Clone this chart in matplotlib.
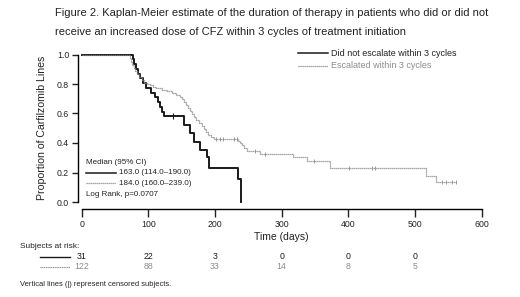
import numpy as np
import matplotlib
matplotlib.use("Agg")
import matplotlib.pyplot as plt
from matplotlib.lines import Line2D
from matplotlib.transforms import blended_transform_factory

plt.rcParams['font.family'] = ['Liberation Sans', 'DejaVu Sans']

# Kaplan-Meier steps (time in days, survival)
t_black = [0, 77, 79, 82, 85, 88, 92, 97, 104, 110, 114, 117, 120, 124,
           153, 163, 168, 177, 188, 191, 234, 239]
s_black = [1.0, 0.968, 0.935, 0.903, 0.871, 0.839, 0.806, 0.774, 0.742, 0.710,
           0.677, 0.645, 0.613, 0.581, 0.52, 0.465, 0.41, 0.35, 0.305, 0.23, 0.154, 0.0]
cens_black = [137]

t_grey = [0, 72, 74, 76, 78, 80, 83, 86, 90, 94, 98, 102, 107, 112, 120, 128, 135,
          142, 147, 151, 154, 157, 160, 163, 166, 169, 172, 176, 180, 184, 187, 190,
          194, 198, 235, 238, 241, 244, 248, 268, 317, 338, 372, 517, 532, 562]
s_grey = [1.0, 0.975, 0.95, 0.93, 0.91, 0.89, 0.87, 0.85, 0.83, 0.81, 0.80, 0.79,
          0.78, 0.77, 0.76, 0.75, 0.74, 0.725, 0.71, 0.695, 0.68, 0.66, 0.64, 0.615,
          0.595, 0.575, 0.555, 0.535, 0.515, 0.495, 0.475, 0.455, 0.44, 0.425, 0.415,
          0.40, 0.385, 0.365, 0.345, 0.325, 0.307, 0.278, 0.228, 0.178, 0.134, 0.134]
cens_grey = [202, 207, 212, 228, 233, 260, 275, 348, 401, 435, 440, 540, 547, 555, 561]

risk_times = [0, 100, 200, 300, 400, 500]
risk_black = [31, 22, 3, 0, 0, 0]
risk_grey = [122, 88, 33, 14, 8, 5]

BLACK = '#1a1a1a'
GREY = '#8c8c8c'
W, H = 520, 297

fig = plt.figure(figsize=(W / 100, H / 100), dpi=100)
ax = fig.add_axes([81.7 / W, (H - 202) / H, 400 / W, 147.5 / H])


def fx(x):
    return x / W


def fy(y):
    return 1 - y / H


def step_value(t, s, x):
    idx = np.searchsorted(t, x, side='right') - 1
    return np.asarray(s)[idx]


ax.plot(t_black, s_black, drawstyle='steps-post', color=BLACK, lw=1.4, clip_on=False)
ax.plot(t_grey, s_grey, drawstyle='steps-post', color=GREY, lw=0.9,
        linestyle=(0, (1, 0.6)), clip_on=False)
ax.plot(cens_black, step_value(t_black, s_black, cens_black), ls='none', marker='|',
        ms=4.5, mew=0.8, color=BLACK, clip_on=False)
ax.plot(cens_grey, step_value(t_grey, s_grey, cens_grey), ls='none', marker='|',
        ms=3.5, mew=0.6, color=GREY, clip_on=False)

ax.set_xlim(0, 600)
ax.set_ylim(0, 1.0)
for sp in ['top', 'right']:
    ax.spines[sp].set_visible(False)
ax.spines['left'].set_position(('outward', 3))
ax.spines['bottom'].set_position(('outward', 5))
ax.spines['left'].set_linewidth(1.0)
ax.spines['bottom'].set_linewidth(1.0)
ax.set_xticks(np.arange(0, 601, 100))
ax.set_yticks(np.arange(0, 1.01, 0.2))
ax.yaxis.set_major_formatter(matplotlib.ticker.FormatStrFormatter('%.1f'))
ax.tick_params(axis='x', length=6, width=1.0, labelsize=6.3, pad=2, colors='#222222')
ax.tick_params(axis='y', length=4, width=1.0, labelsize=6.3, pad=2, colors='#222222')
ax.set_xlabel('Time (days)', fontsize=7.5, labelpad=2, color='#222222')
ax.set_ylabel('Proportion of Carfilzomib Lines', fontsize=7.6, labelpad=7, color='#222222')

# title
fig.text(fx(55), fy(12.7), 'Figure 2. Kaplan-Meier estimate of the duration of therapy in patients who did or did not',
         fontsize=8, va='center', ha='left', color='#222222')
fig.text(fx(55), fy(31.7), 'receive an increased dose of CFZ within 3 cycles of treatment initiation',
         fontsize=8, va='center', ha='left', color='#222222')

# top-right legend
fig.add_artist(Line2D([fx(298), fx(328)], [fy(53), fy(53)], color=BLACK, lw=1.1))
fig.add_artist(Line2D([fx(298), fx(328)], [fy(66), fy(66)], color=GREY, lw=0.9, ls=(0, (1, 0.6))))
fig.text(fx(331), fy(53), 'Did not escalate within 3 cycles', fontsize=6.5, va='center', color='#222222')
fig.text(fx(331), fy(66), 'Escalated within 3 cycles', fontsize=6.5, va='center', color=GREY)

# median legend inside plot
fig.text(fx(86), fy(162.3), 'Median (95% CI)', fontsize=5.8, va='center', color='#222222')
fig.add_artist(Line2D([fx(86), fx(116)], [fy(172.7), fy(172.7)], color=BLACK, lw=1.1))
fig.add_artist(Line2D([fx(86), fx(116)], [fy(183.3), fy(183.3)], color=GREY, lw=0.9, ls=(0, (1, 0.6))))
fig.text(fx(119), fy(172.7), '163.0 (114.0\u2013190.0)', fontsize=5.8, va='center', color='#222222')
fig.text(fx(119), fy(183.3), '184.0 (160.0\u2013239.0)', fontsize=5.8, va='center', color='#222222')
fig.text(fx(86), fy(194.3), 'Log Rank, p=0.0707', fontsize=5.8, va='center', color='#222222')

# subjects at risk
fig.text(fx(20), fy(246.7), 'Subjects at risk:', fontsize=6, va='center', color='#222222')
fig.add_artist(Line2D([fx(40), fx(70)], [fy(256.7), fy(256.7)], color=BLACK, lw=1.0))
fig.add_artist(Line2D([fx(40), fx(70)], [fy(266.7), fy(266.7)], color=GREY, lw=0.8, ls=(0, (1, 0.6))))
tr = blended_transform_factory(ax.transData, fig.transFigure)
for t, nb, ng in zip(risk_times, risk_black, risk_grey):
    ax.text(t, fy(256.7), str(nb), transform=tr, ha='center', va='center',
            fontsize=6.3, color=BLACK, clip_on=False)
    ax.text(t, fy(266.7), str(ng), transform=tr, ha='center', va='center',
            fontsize=6.3, color=GREY, clip_on=False)

fig.text(fx(20), fy(284), 'Vertical lines (|) represent censored subjects.', fontsize=5.4,
         va='center', color='#222222')

fig.savefig('out.png', dpi=100)
